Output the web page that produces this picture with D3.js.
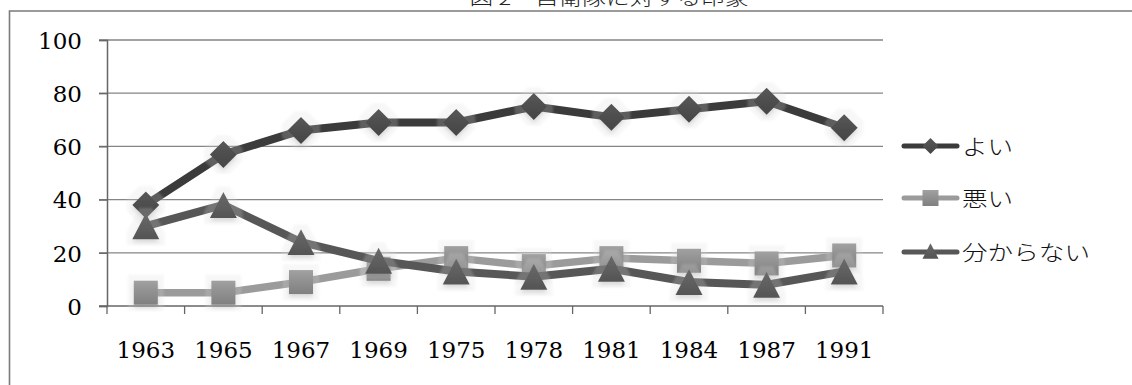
<!DOCTYPE html>
<html>
<head>
<meta charset="utf-8">
<script src="https://cdn.jsdelivr.net/npm/d3@7"></script>
<style>
  html, body { margin: 0; padding: 0; background: #fff; }
  svg { display: block; }
</style>
</head>
<body>
<svg id="chart" width="1132" height="385"></svg>
<script>
// Survey years
const years = ["1963", "1965", "1967", "1969", "1975", "1978", "1981", "1984", "1987", "1991"];
// Percentages per answer
const good    = [38, 57, 66, 69, 69, 75, 71, 74, 77, 67];   // よい
const bad     = [5, 5, 9, 14, 18, 15, 18, 17, 16, 19];       // 悪い
const unknown = [30, 38, 24, 17, 13, 11, 14, 9, 8, 13];      // 分からない
const yTicks  = [0, 20, 40, 60, 80, 100];
const seriesNames = ["よい", "悪い", "分からない"];
const titleText = "図 2　自衛隊に対する印象";

const series = [
  { name: seriesNames[0], values: good,    line: "#3b3b3b", fill: "#4d4d4d", shape: "diamond", lw: 8 },
  { name: seriesNames[1], values: bad,     line: "#9b9b9b", fill: "#8e8e8e", shape: "square",  lw: 7.5 },
  { name: seriesNames[2], values: unknown, line: "#575757", fill: "#5e5e5e", shape: "triangle", lw: 8 }
];

const svg = d3.select("#chart");
const defs = svg.append("defs");

// faint halo + soft shadow round each marker
const f = defs.append("filter").attr("id", "glow")
  .attr("x", "-60%").attr("y", "-60%").attr("width", "220%").attr("height", "220%");
f.append("feMorphology").attr("in", "SourceAlpha").attr("operator", "dilate").attr("radius", 6).attr("result", "dil");
f.append("feGaussianBlur").attr("in", "dil").attr("stdDeviation", 1).attr("result", "dilb");
f.append("feFlood").attr("flood-color", "#dcdcdc").attr("flood-opacity", 0.22);
f.append("feComposite").attr("in2", "dilb").attr("operator", "in").attr("result", "halo");
f.append("feGaussianBlur").attr("in", "SourceAlpha").attr("stdDeviation", 2).attr("result", "sb");
f.append("feOffset").attr("in", "sb").attr("dy", 3).attr("result", "so");
f.append("feFlood").attr("flood-color", "#000").attr("flood-opacity", 0.22);
f.append("feComposite").attr("in2", "so").attr("operator", "in").attr("result", "shadow");
const m = f.append("feMerge");
m.append("feMergeNode").attr("in", "halo");
m.append("feMergeNode").attr("in", "shadow");
m.append("feMergeNode").attr("in", "SourceGraphic");

// gentle shading on markers
series.forEach((s, i) => {
  const g = defs.append("linearGradient").attr("id", "grad" + i)
    .attr("x1", 0).attr("y1", 0).attr("x2", 0).attr("y2", 1);
  g.append("stop").attr("offset", "0%").attr("stop-color", d3.color(s.fill).brighter(0.35));
  g.append("stop").attr("offset", "55%").attr("stop-color", s.fill);
  g.append("stop").attr("offset", "100%").attr("stop-color", d3.color(s.fill).darker(0.3));
});

// outer frame of the chart area
svg.append("path")
  .attr("d", "M9.5,385 L9.5,11 L1132,11")
  .attr("fill", "none").attr("stroke", "#7a7a7a").attr("stroke-width", 1.6);

// title, partly above the top edge (wide-set glyphs)
svg.append("text")
  .attr("transform", "translate(609,5) scale(1.25,1)")
  .attr("text-anchor", "middle")
  .attr("font-family", "'Noto Sans CJK JP'")
  .attr("font-weight", 300)
  .attr("font-size", 19)
  .attr("fill", "#222")
  .text(titleText);

const x = d3.scaleBand().domain(years).range([107, 883]).paddingInner(0).paddingOuter(0);
const y = d3.scaleLinear().domain([0, 100]).range([306, 40]);
const cx = d => x(d) + x.bandwidth() / 2;

// horizontal gridlines
svg.append("g").selectAll("line").data(yTicks.filter(t => t > 0)).join("line")
  .attr("x1", 99).attr("x2", 883)
  .attr("y1", d => y(d)).attr("y2", d => y(d))
  .attr("stroke", "#858585").attr("stroke-width", 1.3);

// y axis
const yAxis = svg.append("g").attr("transform", "translate(107,0)")
  .call(d3.axisLeft(y).tickValues(yTicks).tickSize(8).tickPadding(17).tickFormat(d3.format("d")));
yAxis.select(".domain").attr("stroke", "#666").attr("stroke-width", 1.5);
yAxis.selectAll(".tick line").attr("stroke", "#666").attr("stroke-width", 1.3);
yAxis.selectAll("text")
  .attr("font-family", "'DejaVu Serif'").attr("font-size", 23).attr("fill", "#000")
  .attr("dy", "0.36em");

// x axis baseline with ticks on category boundaries
const xAxisG = svg.append("g");
xAxisG.append("line").attr("x1", 99).attr("x2", 883).attr("y1", y(0)).attr("y2", y(0))
  .attr("stroke", "#666").attr("stroke-width", 1.5);
const bounds = years.map(d => x(d)).concat([x(years[years.length - 1]) + x.bandwidth()]);
xAxisG.selectAll("line.tk").data(bounds).join("line").attr("class", "tk")
  .attr("x1", d => d).attr("x2", d => d)
  .attr("y1", y(0)).attr("y2", y(0) + 8)
  .attr("stroke", "#666").attr("stroke-width", 1.3);
xAxisG.selectAll("text").data(years).join("text")
  .attr("x", d => cx(d)).attr("y", 358)
  .attr("text-anchor", "middle")
  .attr("font-family", "'DejaVu Serif'").attr("font-size", 23).attr("fill", "#000")
  .text(d => d);

// marker shapes; size is the marker's width squared
const shapes = {
  diamond: { draw(ctx, size) { const r = Math.sqrt(size) / 2;
    ctx.moveTo(0, -r); ctx.lineTo(r, 0); ctx.lineTo(0, r); ctx.lineTo(-r, 0); ctx.closePath(); } },
  square: { draw(ctx, size) { const r = Math.sqrt(size) / 2;
    ctx.rect(-r, -r, 2 * r, 2 * r); } },
  triangle: { draw(ctx, size) { const w = Math.sqrt(size) / 2, h = w * 0.96;
    ctx.moveTo(0, -h); ctx.lineTo(w, h); ctx.lineTo(-w, h); ctx.closePath(); } }
};
function markerPath(shape, width) {
  return d3.symbol().type(shapes[shape]).size(width * width)();
}
const markerWidth = { diamond: 27, square: 24, triangle: 27 };

const line = d3.line().x((d, i) => cx(years[i])).y(d => y(d));

// lines first, then markers (later series over earlier ones)
series.forEach((s, i) => {
  const g = svg.append("g");
  g.append("path").datum(s.values)
    .attr("d", line)
    .attr("fill", "none").attr("stroke", s.line)
    .attr("stroke-width", s.lw).attr("stroke-linejoin", "round").attr("stroke-linecap", "round");
  g.selectAll("path.mk").data(s.values).join("path").attr("class", "mk")
    .attr("transform", (d, j) => `translate(${cx(years[j])},${y(d)})`)
    .attr("d", markerPath(s.shape, markerWidth[s.shape]))
    .attr("fill", `url(#grad${i})`)
    .attr("filter", "url(#glow)");
});

// legend
const legendY = [146, 198, 252];
const legendWidth = { diamond: 16, square: 16, triangle: 16 };
series.forEach((s, i) => {
  const g = svg.append("g").attr("transform", `translate(0,${legendY[i]})`);
  g.append("line").attr("x1", 904).attr("x2", 957).attr("y1", 0).attr("y2", 0)
    .attr("stroke", s.line).attr("stroke-width", 5).attr("stroke-linecap", "round");
  g.append("path")
    .attr("transform", `translate(930.5,${s.shape === "triangle" ? -1 : 0})`)
    .attr("d", markerPath(s.shape, legendWidth[s.shape]))
    .attr("fill", `url(#grad${i})`);
  g.append("text")
    .attr("transform", "translate(962,8) scale(1.22,1)")
    .attr("font-family", "'Noto Sans CJK JP'").attr("font-weight", 300)
    .attr("font-size", 21).attr("fill", "#111")
    .text(s.name);
});
</script>
</body>
</html>
